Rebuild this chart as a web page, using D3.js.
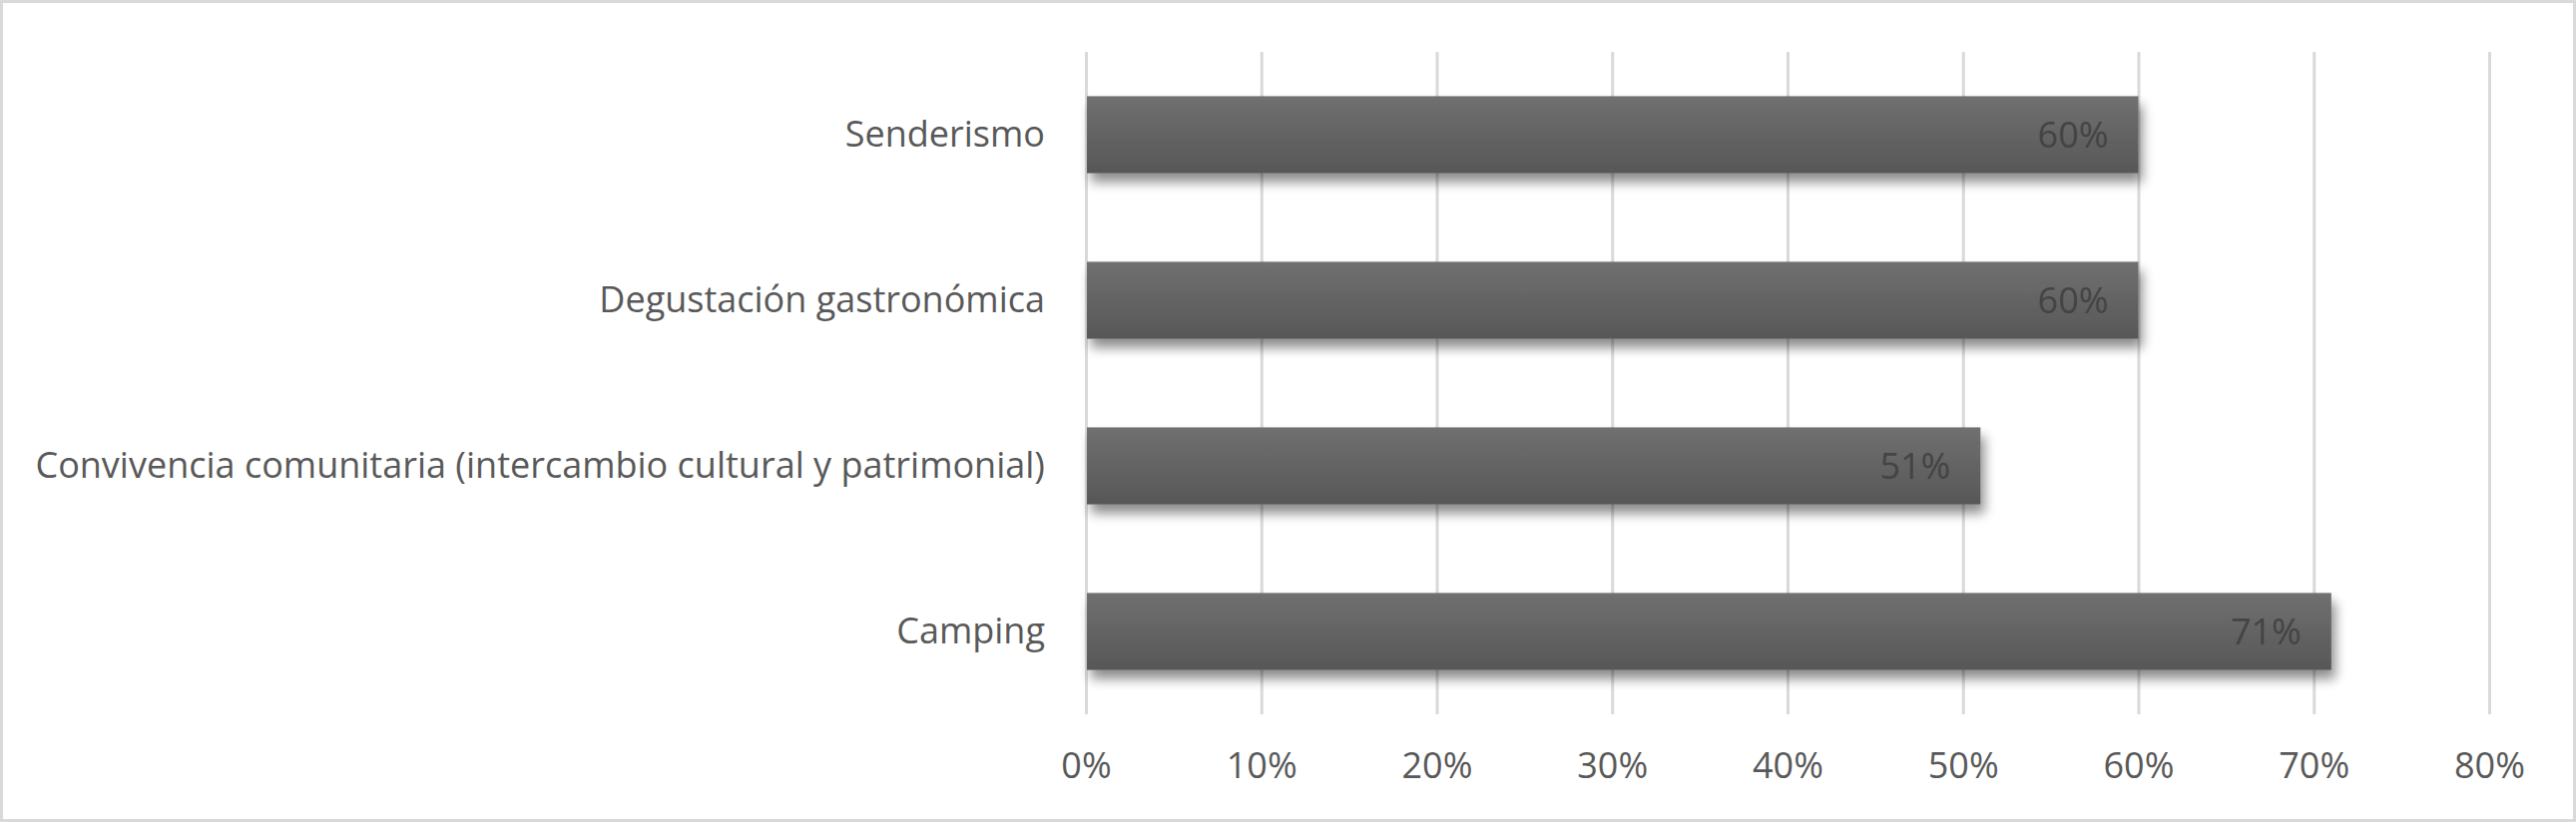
<!DOCTYPE html>
<html>
<head>
<meta charset="utf-8">
<script src="https://cdn.jsdelivr.net/npm/d3@7"></script>
<style>
  html, body { margin: 0; padding: 0; background: #fff; }
  svg { display: block; }
  text { font-family: "Open Sans", "Noto Sans", sans-serif; }
</style>
</head>
<body>
<svg id="chart" width="2581" height="824"></svg>
<script>
const categories = ["Senderismo", "Degustación gastronómica", "Convivencia comunitaria (intercambio cultural y patrimonial)", "Camping"];
const values = [0.60, 0.60, 0.51, 0.71];
const tickValues = [0, 0.1, 0.2, 0.3, 0.4, 0.5, 0.6, 0.7, 0.8];

const W = 2581, H = 824;
const svg = d3.select("#chart");

// outer border
svg.append("rect")
  .attr("x", 1.5).attr("y", 1.5)
  .attr("width", W - 3).attr("height", H - 3)
  .attr("fill", "#fff").attr("stroke", "#d9d9d9").attr("stroke-width", 3);

const margin = { left: 1088, right: 87, top: 52, bottom: 108 };
const x = d3.scaleLinear().domain([0, 0.8]).range([margin.left, W - margin.right]);
const y = d3.scaleBand().domain(categories).range([margin.top, H - margin.bottom]).paddingInner(0.535).paddingOuter(0.2675);

const defs = svg.append("defs");
const grad = defs.append("linearGradient").attr("id", "barGrad").attr("x1", 0).attr("y1", 0).attr("x2", 0).attr("y2", 1);
grad.append("stop").attr("offset", "0%").attr("stop-color", "#707070");
grad.append("stop").attr("offset", "100%").attr("stop-color", "#575757");

const shadow = defs.append("filter").attr("id", "shadow").attr("x", "-5%").attr("y", "-30%").attr("width", "110%").attr("height", "180%");
shadow.append("feGaussianBlur").attr("in", "SourceAlpha").attr("stdDeviation", 6).attr("result", "blur");
shadow.append("feOffset").attr("in", "blur").attr("dx", 4).attr("dy", 9).attr("result", "off");
shadow.append("feComponentTransfer").attr("in", "off").attr("result", "soft")
  .append("feFuncA").attr("type", "linear").attr("slope", 0.45);
const merge = shadow.append("feMerge");
merge.append("feMergeNode").attr("in", "soft");
merge.append("feMergeNode").attr("in", "SourceGraphic");

// gridlines
const grid = svg.append("g")
  .attr("transform", `translate(0,${H - margin.bottom})`)
  .call(d3.axisBottom(x).tickValues(tickValues).tickSize(-(H - margin.bottom - margin.top)).tickFormat(""));
grid.select(".domain").remove();
grid.selectAll(".tick line").attr("stroke", "#d9d9d9").attr("stroke-width", 3);

// x axis labels
const xAxis = svg.append("g")
  .attr("transform", `translate(0,${H - margin.bottom})`)
  .call(d3.axisBottom(x).tickValues(tickValues).tickSize(0).tickPadding(38).tickFormat(d3.format(".0%")));
xAxis.select(".domain").remove();
xAxis.selectAll("text").attr("font-size", 36).attr("fill", "#595959")
  .style("font-family", '"Open Sans", "Noto Sans", sans-serif');

// y axis labels
const yAxis = svg.append("g")
  .attr("transform", `translate(${margin.left},0)`)
  .call(d3.axisLeft(y).tickSize(0).tickPadding(41));
yAxis.select(".domain").remove();
yAxis.selectAll("text").attr("font-size", 36).attr("fill", "#595959")
  .style("font-family", '"Open Sans", "Noto Sans", sans-serif');

const data = categories.map((c, i) => ({ c, v: values[i] }));

// bars
svg.append("g").selectAll("rect").data(data).join("rect")
  .attr("x", x(0) + 1)
  .attr("y", d => y(d.c))
  .attr("width", d => x(d.v) - x(0) - 1)
  .attr("height", y.bandwidth())
  .attr("fill", "url(#barGrad)")
  .attr("filter", "url(#shadow)");

// value labels
svg.append("g").selectAll("text").data(data).join("text")
  .attr("x", d => x(d.v) - 30)
  .attr("y", d => y(d.c) + y.bandwidth() / 2)
  .attr("dy", "0.36em")
  .attr("text-anchor", "end")
  .attr("font-size", 36)
  .attr("fill", "#444444")
  .text(d => d3.format(".0%")(d.v));
</script>
</body>
</html>
